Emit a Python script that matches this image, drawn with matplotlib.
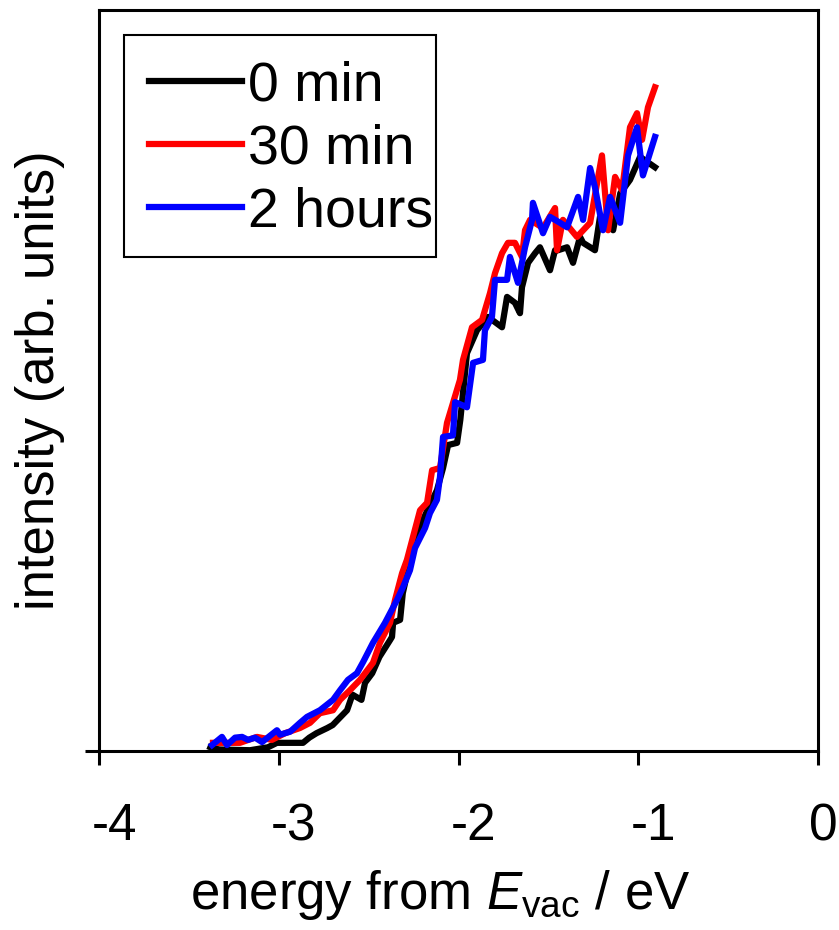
import numpy as np
import matplotlib
matplotlib.use("Agg")
from matplotlib import pyplot as plt
from matplotlib.transforms import ScaledTranslation
from matplotlib.patches import Rectangle

plt.rcParams['font.family'] = ['Liberation Sans', 'DejaVu Sans']
plt.rcParams['mathtext.fontset'] = 'custom'
plt.rcParams['mathtext.it'] = 'Liberation Sans:italic'
plt.rcParams['mathtext.rm'] = 'Liberation Sans'

# energy (eV) and intensity (arb. units)
x_0min = [-3.38, -3.37, -3.33, -3.16, -3.06, -3.01, -2.865, -2.83, -2.79, -2.73,
          -2.70, -2.66, -2.62, -2.59, -2.54, -2.52, -2.48, -2.44, -2.38, -2.37,
          -2.364, -2.325, -2.31, -2.24, -2.16, -2.12, -2.086, -2.058, -2.008, -1.99,
          -1.953, -1.897, -1.836, -1.758, -1.73, -1.686, -1.658, -1.647, -1.613, -1.574,
          -1.547, -1.491, -1.463, -1.446, -1.396, -1.363, -1.324, -1.307, -1.241, -1.213,
          -1.14, -1.10, -1.046, -0.99, -0.907]
y_0min = [0.005, 0.004, 0.002, 0.001, 0.005, 0.011, 0.011, 0.018, 0.024, 0.031,
          0.035, 0.045, 0.055, 0.076, 0.069, 0.092, 0.105, 0.127, 0.150, 0.154,
          0.173, 0.177, 0.213, 0.289, 0.332, 0.352, 0.382, 0.413, 0.416, 0.447,
          0.537, 0.568, 0.586, 0.572, 0.613, 0.605, 0.591, 0.626, 0.659, 0.672,
          0.680, 0.649, 0.676, 0.676, 0.680, 0.659, 0.694, 0.686, 0.676, 0.721,
          0.703, 0.753, 0.771, 0.802, 0.788]

x_30min = [-3.366, -3.216, -3.121, -3.038, -2.965, -2.882, -2.826, -2.771, -2.698, -2.659,
           -2.604, -2.548, -2.476, -2.437, -2.381, -2.353, -2.314, -2.287, -2.214, -2.175,
           -2.147, -2.103, -2.064, -1.992, -1.975, -1.925, -1.869, -1.825, -1.797, -1.758,
           -1.725, -1.686, -1.647, -1.630, -1.602, -1.53, -1.463, -1.452, -1.419, -1.341,
           -1.268, -1.202, -1.168, -1.129, -1.090, -1.046, -1.007, -0.979, -0.946, -0.907]
y_30min = [0.011, 0.011, 0.019, 0.015, 0.024, 0.031, 0.038, 0.051, 0.055, 0.069,
           0.082, 0.096, 0.119, 0.146, 0.173, 0.204, 0.240, 0.258, 0.325, 0.335,
           0.379, 0.382, 0.443, 0.501, 0.528, 0.572, 0.582, 0.618, 0.645, 0.672,
           0.686, 0.686, 0.667, 0.703, 0.717, 0.706, 0.733, 0.676, 0.717, 0.694,
           0.713, 0.804, 0.703, 0.775, 0.757, 0.842, 0.861, 0.825, 0.869, 0.896]

x_2h = [-3.371, -3.316, -3.288, -3.243, -3.204, -3.171, -3.132, -3.093, -3.010, -2.993,
        -2.937, -2.882, -2.843, -2.771, -2.698, -2.659, -2.615, -2.565, -2.531, -2.476,
        -2.409, -2.342, -2.309, -2.270, -2.242, -2.186, -2.159, -2.120, -2.103, -2.086,
        -2.031, -2.019, -1.953, -1.919, -1.864, -1.853, -1.814, -1.797, -1.730, -1.714,
        -1.669, -1.630, -1.591, -1.586, -1.530, -1.491, -1.435, -1.396, -1.335, -1.307,
        -1.268, -1.241, -1.196, -1.157, -1.101, -1.057, -1.007, -0.974, -0.907]
y_2h = [0.008, 0.019, 0.008, 0.018, 0.019, 0.015, 0.018, 0.012, 0.028, 0.022,
        0.026, 0.038, 0.046, 0.055, 0.069, 0.082, 0.096, 0.105, 0.120, 0.146,
        0.173, 0.204, 0.221, 0.244, 0.274, 0.301, 0.321, 0.339, 0.370, 0.424,
        0.426, 0.471, 0.464, 0.524, 0.528, 0.568, 0.586, 0.636, 0.636, 0.667,
        0.632, 0.680, 0.717, 0.740, 0.699, 0.721, 0.713, 0.707, 0.748, 0.717,
        0.787, 0.761, 0.703, 0.748, 0.713, 0.804, 0.842, 0.777, 0.829]

labels = ["0 min", "30 min", "2 hours"]
xticks = [-4, -3, -2, -1, 0]

fs = 37

fig = plt.figure(figsize=(8.39, 9.30), dpi=100)
ax = fig.add_axes([0.118, 0.1925, 0.857, 0.7965])

lw = 4.5
ax.plot(x_0min, y_0min, color="black", lw=lw, label=labels[0], solid_joinstyle="round")
ax.plot(x_30min, y_30min, color="red", lw=lw, label=labels[1], solid_joinstyle="round")
ax.plot(x_2h, y_2h, color="blue", lw=lw, label=labels[2], solid_joinstyle="round")

ax.set_xlim(-4, 0)
ax.set_ylim(0, 1)
ax.set_xticks(xticks)
ax.set_xticklabels([str(t) for t in xticks])
ax.set_yticks([0])
ax.set_yticklabels([""])
for s in ax.spines.values():
    s.set_linewidth(2.2)
ax.tick_params(direction="out", length=10, width=2.2, labelsize=fs)
ax.tick_params(axis="x", pad=27)

# labels in the original sit a bit right of their ticks
for t, lab in zip(xticks, ax.get_xticklabels()):
    dx = 15 if t < 0 else 5
    lab.set_transform(lab.get_transform() + ScaledTranslation(dx / 100, 0, fig.dpi_scale_trans))

ax.set_xlabel("energy from $\\mathit{E}_{\\mathrm{vac}}$ / eV", fontsize=38, labelpad=12, x=0.475)
ax.set_ylabel("intensity (arb. units)", fontsize=38, labelpad=11)

leg = ax.legend(loc="upper left", fontsize=40, frameon=False, handlelength=1.68,
                handletextpad=0.1, borderaxespad=0.45, labelspacing=0.2, borderpad=0.45)

# legend frame: tight on the right like the original
fig.canvas.draw()
bb = leg.get_window_extent().transformed(ax.transAxes.inverted())
aw = ax.get_window_extent()
trim_x = 22 / aw.width
trim_y = 6 / aw.height
frame = Rectangle((bb.x0, bb.y0 + trim_y), bb.width - trim_x, bb.height - trim_y,
                  transform=ax.transAxes, fill=True, facecolor="white",
                  edgecolor="black", lw=1.5, zorder=4.9)
ax.add_patch(frame)
leg.set_zorder(5)

fig.savefig("out.png", dpi=100)
